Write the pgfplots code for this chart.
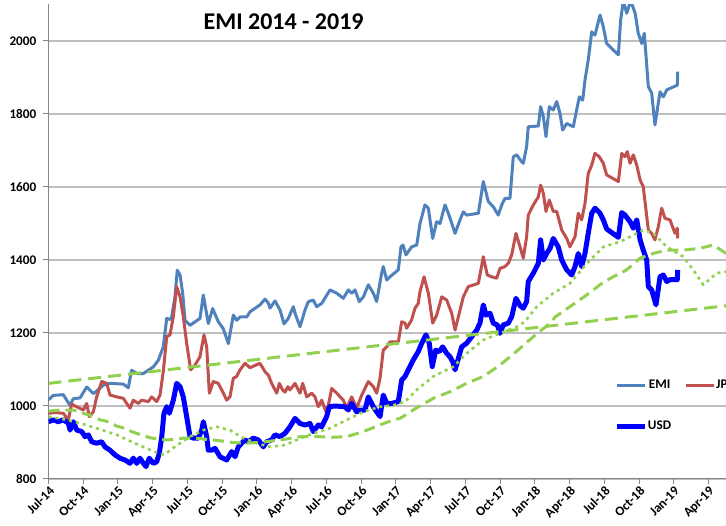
\documentclass[border=0pt]{standalone}
\usepackage{fontspec}
\setmainfont{Carlito}
\usepackage{pgfplots}
\pgfplotsset{compat=1.18}
\definecolor{emi}{HTML}{4F81BD}
\definecolor{jpy}{HTML}{C0504D}
\definecolor{usd}{HTML}{0000FF}
\definecolor{grn}{HTML}{92D050}
\definecolor{gridc}{HTML}{BFBFBF}
\definecolor{axc}{HTML}{868686}
\newcommand\tickfont{\fontsize{13.2}{15}\selectfont\bfseries}
\begin{document}
\begin{tikzpicture}
\begin{axis}[
  at={(0,0)}, anchor=south west,
  scale only axis, width=694.8pt, height=474.5pt,
  xmin=0, xmax=60, ymin=800, ymax=2100,
  axis x line*=bottom, axis y line*=left,
  axis line style={draw=axc, line width=1pt, -},
  tick style={draw=axc, line width=1pt},
  tick align=outside, major tick length=5pt,
  xtick={0,3,...,57},
  xticklabels={Jul-14,Oct-14,Jan-15,Apr-15,Jul-15,Oct-15,Jan-16,Apr-16,Jul-16,Oct-16,Jan-17,Apr-17,Jul-17,Oct-17,Jan-18,Apr-18,Jul-18,Oct-18,Jan-19,Apr-19},
  ytick={800,1000,...,2000},
  ymajorgrids, grid style={draw=gridc, line width=1.2pt},
  /pgf/number format/1000 sep={},
  /pgf/number format/assume math mode=true,
  ticklabel style={font=\tickfont},
  xticklabel style={rotate=45, anchor=north east, inner sep=1pt},
  yticklabel style={inner sep=2pt, xshift=-5pt},
  legend columns=2,
  legend style={draw=none, fill=none, font=\tickfont,
    at={(axis cs:48.6,1078)}, anchor=north west,
    row sep=30pt,
    nodes={inner sep=0.5pt},
    /tikz/every even column/.append style={column sep=13pt}},
  legend image code/.code={\draw[#1] (0pt,0pt) -- (28pt,0pt);},
  line join=round,
]
\addplot[emi, line width=3pt] table {
0.00 1017
0.41 1029
1.28 1031
1.57 1016
1.86 1002
2.14 1020
2.72 1022
3.30 1052
3.87 1034
4.16 1041
4.73 1057
5.31 1062
6.46 1060
6.89 1050
7.18 1098
7.62 1089
8.19 1089
8.62 1098
9.05 1107
9.48 1125
9.91 1162
10.21 1240
10.49 1237
10.64 1244
10.92 1299
11.12 1372
11.36 1359
11.59 1308
11.79 1235
12.22 1221
13.08 1240
13.37 1304
13.80 1226
14.18 1267
14.66 1231
15.09 1212
15.53 1171
15.96 1249
16.25 1235
16.54 1244
17.12 1244
17.40 1258
18.26 1277
18.70 1293
18.98 1282
19.13 1268
19.56 1288
19.99 1263
20.34 1225
20.71 1240
21.14 1272
21.29 1254
21.72 1217
22.15 1263
22.44 1286
22.87 1290
23.16 1272
23.59 1281
24.31 1318
24.89 1309
25.46 1295
25.89 1318
26.18 1309
26.47 1318
26.84 1286
27.19 1299
27.62 1332
28.05 1309
28.34 1286
28.77 1364
28.91 1382
29.21 1345
29.49 1354
30.21 1373
30.44 1436
30.61 1441
30.87 1414
31.36 1436
31.80 1441
32.08 1500
32.51 1551
32.80 1542
33.18 1459
33.52 1505
33.81 1500
34.24 1551
34.53 1528
35.11 1473
35.54 1510
35.82 1532
36.11 1523
37.12 1528
37.55 1615
37.98 1560
38.41 1546
38.84 1523
39.14 1551
39.42 1569
39.85 1569
40.14 1683
40.43 1688
40.86 1669
41.00 1665
41.29 1711
41.43 1765
42.30 1767
42.50 1820
42.73 1793
42.96 1738
43.25 1820
43.59 1811
43.89 1834
44.17 1802
44.40 1756
44.75 1774
45.32 1765
45.61 1811
45.84 1847
46.13 1838
46.33 1893
46.61 1948
46.91 2025
47.19 2016
47.63 2071
47.91 2039
48.20 1993
49.21 1962
49.41 2058
49.64 2110
49.93 2076
50.28 2110
50.66 2076
50.93 2021
51.23 1993
51.45 2021
51.80 1875
52.09 1857
52.37 1770
52.57 1811
52.81 1861
53.09 1847
53.39 1866
54.30 1879
54.34 1916
};
\addlegendentry{EMI}
\addplot[jpy, line width=3pt] table {
0.00 980
0.56 982
1.28 980
1.71 962
2.00 1005
2.44 998
3.01 989
3.30 1007
3.52 971
3.87 984
4.16 1025
4.59 1067
5.03 1062
5.31 1030
5.89 1025
6.46 1021
6.75 1007
7.04 994
7.32 1016
7.75 1007
8.05 1016
8.62 1012
8.91 1025
9.34 1012
9.63 1030
9.91 1094
10.21 1190
10.49 1195
10.78 1245
11.07 1327
11.36 1299
11.64 1245
11.93 1172
12.28 1099
12.65 1112
13.08 1135
13.43 1195
13.66 1162
13.89 1035
14.23 1067
14.66 1062
14.96 1044
15.39 1016
15.67 1025
15.96 1076
16.25 1081
16.54 1099
16.97 1117
17.40 1105
18.26 1117
18.70 1094
18.98 1085
19.27 1062
19.71 1035
19.93 1062
20.22 1044
20.42 1038
20.68 1053
20.85 1044
21.29 1062
21.72 1035
21.95 1062
22.30 1025
22.73 1035
23.01 1025
23.30 998
23.59 1016
24.02 980
24.46 1048
24.89 1035
25.46 1016
25.75 994
26.18 1025
26.61 994
27.05 1030
27.62 1067
28.05 1053
28.34 1035
28.63 1076
28.91 1153
29.21 1162
29.49 1176
30.21 1176
30.50 1231
30.79 1227
30.93 1213
31.36 1236
31.65 1268
31.93 1281
32.08 1313
32.43 1354
32.80 1309
33.18 1227
33.52 1249
33.96 1299
34.39 1290
34.82 1254
35.11 1208
35.54 1263
35.82 1299
36.25 1327
37.12 1336
37.55 1409
37.89 1359
38.27 1354
38.70 1350
38.99 1377
39.42 1382
39.71 1391
40.00 1414
40.37 1473
40.72 1436
41.00 1405
41.29 1464
41.43 1523
41.87 1551
42.30 1573
42.50 1605
42.73 1583
42.96 1533
43.25 1564
43.59 1533
43.89 1533
44.32 1482
44.75 1459
45.03 1436
45.47 1464
45.75 1528
46.04 1510
46.33 1555
46.61 1637
46.91 1660
47.19 1692
47.56 1683
47.91 1665
48.20 1633
49.21 1615
49.50 1692
49.78 1683
49.98 1697
50.22 1665
50.50 1688
50.80 1660
51.09 1619
51.36 1601
51.80 1482
52.09 1473
52.37 1455
52.66 1491
52.95 1542
53.24 1514
53.67 1510
54.10 1473
54.30 1487
54.34 1459
};
\addlegendentry{JPY}
\addplot[usd, line width=5pt] table {
0.00 957
0.41 962
0.85 957
1.28 962
1.71 953
1.86 934
2.14 957
2.44 934
2.87 930
3.15 916
3.44 921
3.73 902
4.16 898
4.59 902
4.88 888
5.31 879
5.74 866
6.17 857
6.61 852
7.04 843
7.32 857
7.62 843
7.90 857
8.19 843
8.42 834
8.70 857
9.05 843
9.34 847
9.57 870
9.78 916
9.97 980
10.21 998
10.43 980
10.78 1016
11.07 1062
11.36 1053
11.64 1025
11.93 971
12.22 916
12.50 912
12.94 912
13.23 934
13.37 957
13.66 916
13.80 879
14.09 879
14.38 884
14.81 861
15.39 852
15.82 875
16.11 861
16.39 888
16.68 898
16.97 907
17.25 902
17.69 912
18.12 907
18.55 888
18.84 902
19.27 907
19.56 921
19.99 916
20.42 925
20.85 943
21.29 966
21.72 952
22.15 948
22.58 952
22.87 930
23.30 948
23.59 943
24.02 971
24.25 998
24.74 1000
25.60 998
25.89 989
26.18 1007
26.61 984
26.90 989
27.33 989
27.62 1025
28.05 998
28.34 984
28.63 971
28.91 1030
29.21 1007
29.64 1007
30.21 1012
30.50 1071
30.79 1081
31.07 1099
31.50 1126
31.93 1149
32.23 1172
32.60 1195
32.88 1172
33.14 1108
33.44 1153
33.75 1149
34.04 1162
34.39 1144
34.67 1135
34.91 1121
35.11 1099
35.39 1130
35.68 1162
36.11 1172
36.55 1190
36.98 1208
37.26 1227
37.55 1277
37.78 1249
38.13 1254
38.41 1227
38.76 1222
38.99 1199
39.27 1222
39.71 1227
40.00 1245
40.37 1295
40.72 1275
41.00 1268
41.29 1286
41.43 1341
41.87 1364
42.30 1391
42.50 1455
42.73 1400
43.02 1418
43.31 1432
43.59 1459
44.02 1436
44.32 1400
44.75 1373
45.18 1359
45.47 1382
45.75 1418
46.04 1382
46.33 1418
46.61 1473
46.91 1528
47.19 1542
47.63 1528
47.91 1510
48.20 1485
49.21 1462
49.50 1530
49.78 1523
50.22 1505
50.50 1487
50.80 1510
51.09 1455
51.36 1427
51.66 1400
51.80 1327
52.09 1318
52.46 1277
52.81 1354
53.09 1359
53.39 1341
53.67 1346
54.30 1346
54.34 1373
};
\addlegendentry{USD}
% linear trend
\addplot[grn, line width=3pt, dash pattern=on 13pt off 7pt, forget plot] table {
0 1062
60 1280
};
% slow moving average (dashed)
\addplot[grn, line width=3pt, dash pattern=on 11pt off 6pt, forget plot] table {
0.00 986
0.99 989
2.14 989
3.01 980
3.58 975
4.45 962
5.03 958
5.89 945
6.46 940
7.32 928
7.90 922
8.76 913
9.34 910
10.21 907
11.07 909
11.64 912
12.50 912
13.08 911
13.95 907
14.52 906
15.39 902
15.96 900
16.82 898
18.26 900
19.71 906
20.42 909
21.72 916
23.45 916
24.31 914
25.75 916
27.19 930
28.63 948
29.78 962
30.35 966
31.75 994
33.23 1021
34.67 1039
36.11 1062
37.55 1081
38.99 1112
40.43 1150
41.15 1170
42.16 1198
43.13 1222
43.80 1245
44.70 1265
46.25 1299
47.88 1338
48.77 1354
49.93 1373
51.09 1405
52.23 1418
53.39 1427
54.82 1427
56.26 1432
57.41 1441
58.51 1418
};
% fast moving average (dotted)
\addplot[grn, line width=2.6pt, dash pattern=on 3pt off 4pt, forget plot] table {
0.00 971
1.57 962
3.01 950
4.45 936
5.89 921
7.32 900
8.76 880
9.63 868
10.06 867
10.49 879
11.36 898
12.22 916
13.37 934
14.52 943
15.67 934
16.82 912
17.98 898
19.13 888
20.42 893
21.43 907
22.87 925
24.31 939
25.75 962
27.19 984
28.63 998
29.78 1002
30.79 1012
31.80 1044
33.23 1081
34.96 1108
36.11 1144
37.55 1181
38.99 1199
40.43 1217
41.15 1231
42.16 1272
43.59 1309
45.03 1336
46.50 1391
47.91 1436
49.36 1450
50.50 1468
51.36 1482
52.23 1473
53.39 1436
54.82 1409
55.68 1373
56.55 1332
57.70 1364
58.51 1368
59.50 1372
};
\node[font=\fontsize{24}{28}\selectfont\bfseries, anchor=base] at (axis cs:20.3,2032) {EMI 2014 - 2019};
\end{axis}
\pgfresetboundingbox
\path[use as bounding box] (-48.5pt,-47pt) rectangle (677.5pt,479pt);
\end{tikzpicture}
\end{document}
